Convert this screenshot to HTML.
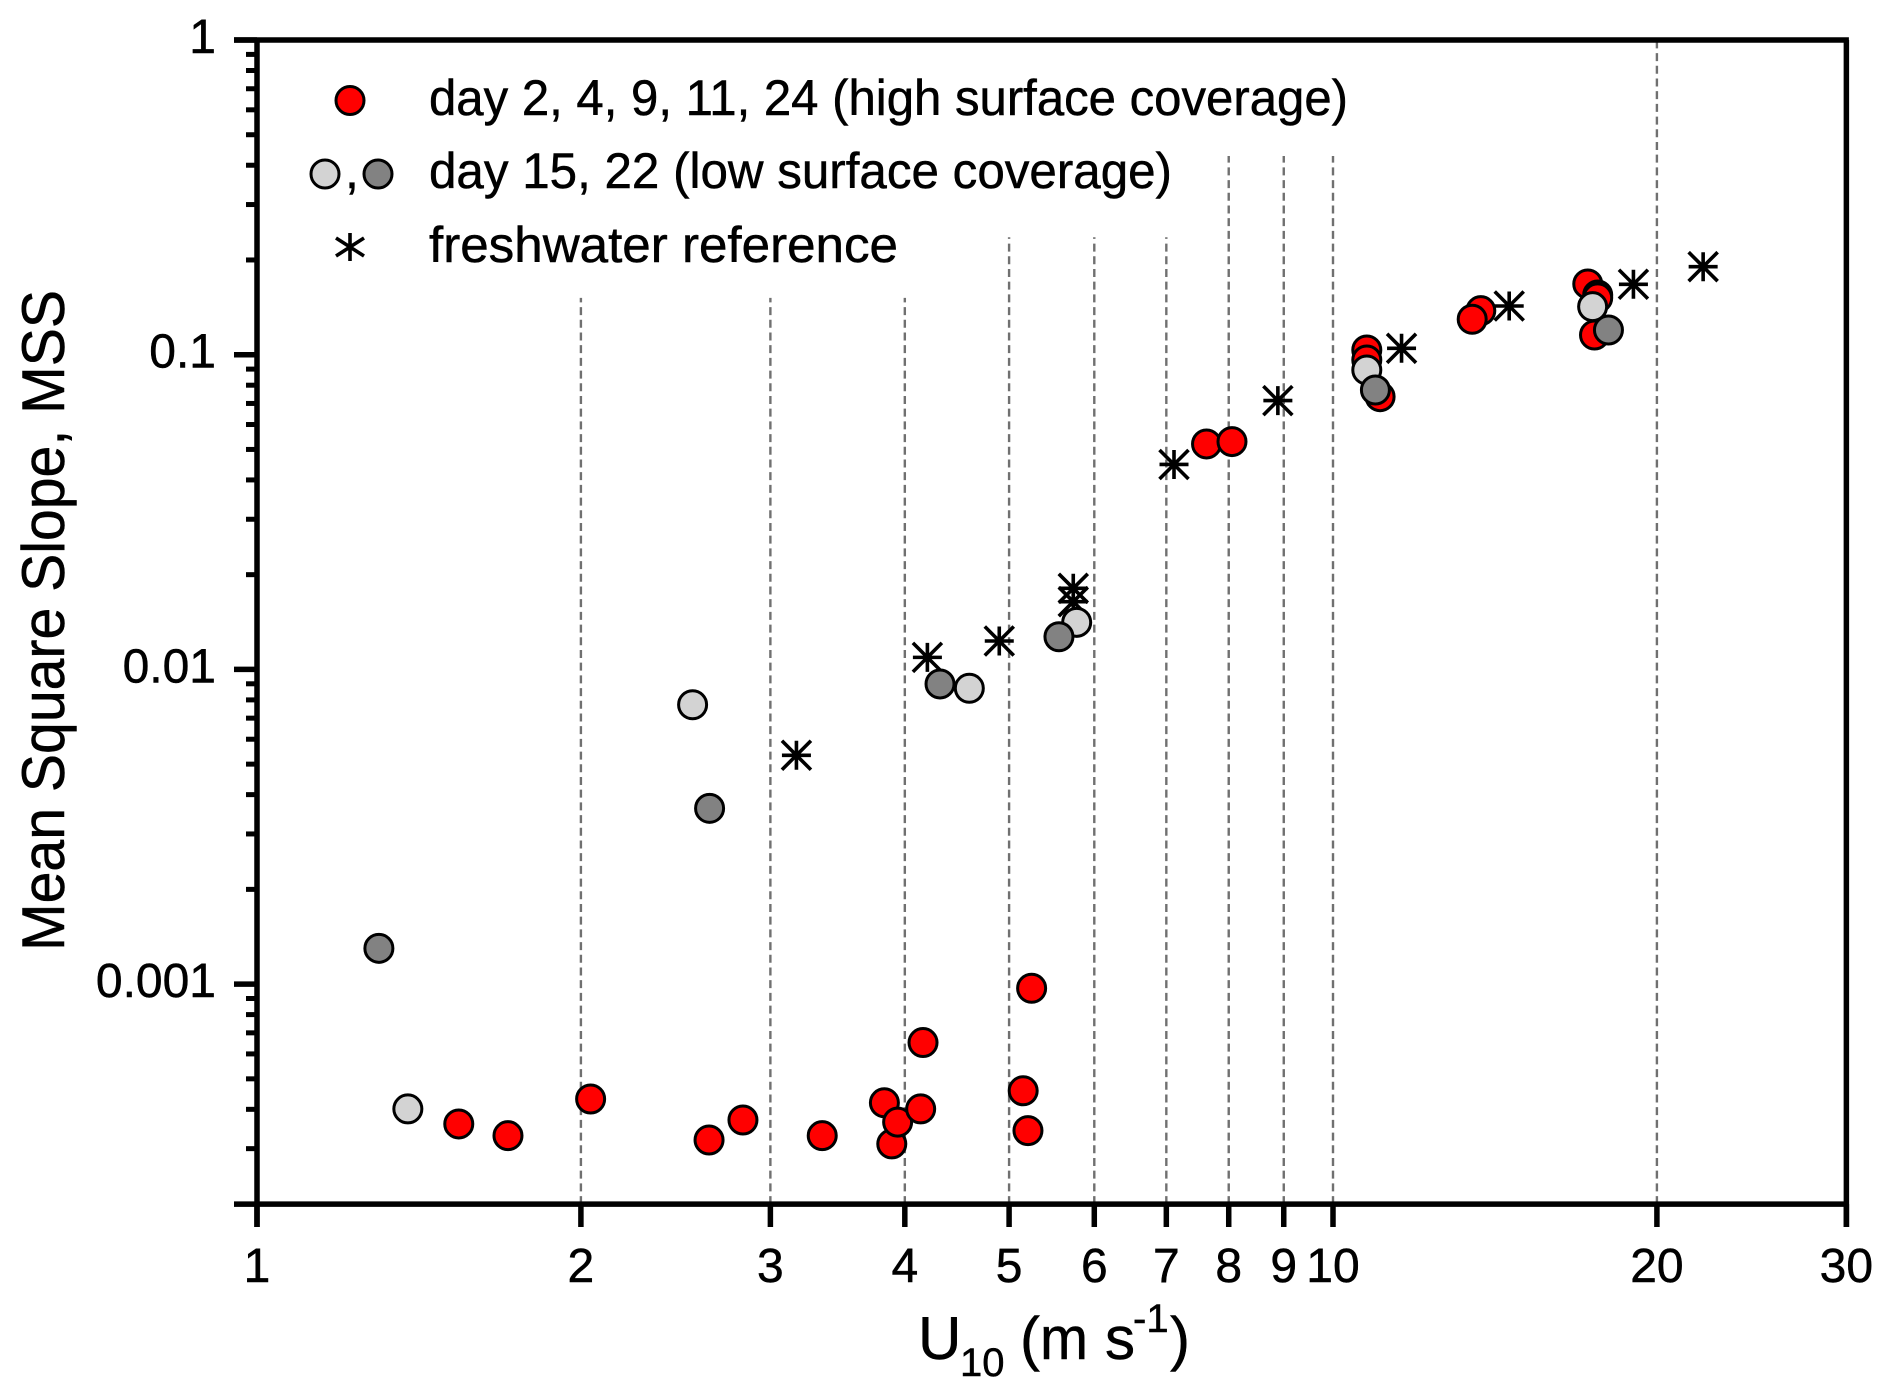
<!DOCTYPE html>
<html lang="en">
<head>
<meta charset="utf-8">
<title>Mean Square Slope vs U10</title>
<style>
html,body{margin:0;padding:0;background:#fff;}
svg{display:block;}
text{font-family:"Liberation Sans",sans-serif;fill:#000;stroke:#000;stroke-width:0.5px;}
</style>
</head>
<body>
<svg id="chart" xmlns="http://www.w3.org/2000/svg" width="1892" height="1396" viewBox="0 0 1892 1396">
  <rect x="0" y="0" width="1892" height="1396" fill="#fff"/>
  <g id="grid"></g>
  <g id="axes"></g>
  <g id="marks"></g>

  <text transform="translate(64,951) rotate(-90)" font-size="60" textLength="661" lengthAdjust="spacingAndGlyphs">Mean Square Slope, MSS</text>
  <text font-size="60" y="1359"><tspan x="918">U</tspan><tspan x="960" y="1376" font-size="40">10</tspan><tspan x="1020" y="1359">(</tspan><tspan x="1040" textLength="48" lengthAdjust="spacingAndGlyphs">m</tspan><tspan x="1105">s</tspan><tspan x="1133" y="1332" font-size="40">-1</tspan><tspan x="1170" y="1359">)</tspan></text>

  <g>
    <circle cx="350" cy="100.5" r="14" fill="#ff0000" stroke="#000" stroke-width="3"/>
    <text x="429" y="115" font-size="50" textLength="919" lengthAdjust="spacingAndGlyphs">day 2, 4, 9, 11, 24 (high surface coverage)</text>
    <circle cx="325" cy="174" r="14" fill="#d3d3d3" stroke="#000" stroke-width="3"/>
    <text x="345" y="188" font-size="50">,</text>
    <circle cx="378" cy="174" r="14" fill="#828282" stroke="#000" stroke-width="3"/>
    <text x="429" y="188" font-size="50" textLength="743" lengthAdjust="spacingAndGlyphs">day 15, 22 (low surface coverage)</text>
    <g stroke="#000" stroke-width="3.6" fill="none">
      <path d="M350 233V261M336 238L364 256M364 238L336 256"/>
    </g>
    <text x="429" y="262" font-size="50" textLength="469" lengthAdjust="spacingAndGlyphs">freshwater reference</text>
  </g>
</svg>
<script>
// Axis tick values
const xTickValues = [1, 2, 3, 4, 5, 6, 7, 8, 9, 10, 20, 30];
const xTickLabels = ["1", "2", "3", "4", "5", "6", "7", "8", "9", "10", "20", "30"];
const yMajorValues = [1, 0.1, 0.01, 0.001];
const yMajorLabels = ["1", "0.1", "0.01", "0.001"];
const yMinorValues = [0.9, 0.8, 0.7, 0.6, 0.5, 0.4, 0.3, 0.2, 0.09, 0.08, 0.07, 0.06, 0.05, 0.04, 0.03, 0.02, 0.009, 0.008, 0.007, 0.006, 0.005, 0.004, 0.003, 0.002, 0.0009, 0.0008, 0.0007, 0.0006, 0.0005, 0.0004, 0.0003, 0.0002];

// Dashed reference lines: wind speed and the MSS value where each line stops
const gridX = [2, 3, 4, 5, 6, 7, 8, 9, 10, 20];
const gridTop = [0.1515, 0.1515, 0.1515, 0.2362, 0.2362, 0.2362, 0.428, 0.428, 0.428, 1];

// High surface coverage
const highU = [1.540, 1.711, 2.042, 2.631, 2.829, 3.352, 3.829, 3.890, 3.939, 4.138, 4.159, 5.153, 5.206, 5.247, 7.629, 8.056, 10.75, 10.75, 11.06, 13.72, 13.47, 17.25, 17.62, 17.62, 17.50];
const highMSS = [3.594e-4, 3.299e-4, 4.314e-4, 3.196e-4, 3.70e-4, 3.299e-4, 4.196e-4, 3.106e-4, 3.642e-4, 4.012e-4, 6.52e-4, 4.581e-4, 3.423e-4, 9.70e-4, 0.05204, 0.05296, 0.1035, 0.0962, 0.07354, 0.1380, 0.1296, 0.1678, 0.1548, 0.1515, 0.1155];

// Day 15 (low coverage, light grey)
const day15U = [1.381, 2.540, 4.592, 5.778, 10.75, 17.43];
const day15MSS = [4.012e-4, 0.00772, 0.00871, 0.01411, 0.0894, 0.1421];

// Day 22 (low coverage, dark grey)
const day22U = [1.298, 2.634, 4.313, 5.563, 10.95, 18.03];
const day22MSS = [0.001299, 0.003618, 0.00899, 0.01270, 0.07724, 0.1198];

// Freshwater reference
const freshU = [3.172, 4.198, 4.896, 5.736, 5.736, 7.116, 8.887, 11.58, 14.58, 19.02, 22.08];
const freshMSS = [0.005335, 0.01092, 0.01231, 0.01810, 0.01641, 0.04479, 0.07147, 0.1048, 0.1428, 0.1674, 0.1904];

const NS = "http://www.w3.org/2000/svg";
const xScale = v => 257 + 1076 * Math.log10(v);
const yScale = v => 40 - 314.7 * Math.log10(v);
const yBottom = yScale(0.0002);
const xRight = xScale(30);

function make(tag, attrs, parent) {
  const el = document.createElementNS(NS, tag);
  for (const k in attrs) el.setAttribute(k, attrs[k]);
  parent.appendChild(el);
  return el;
}

const gridG = document.getElementById("grid");
const axesG = document.getElementById("axes");
const marksG = document.getElementById("marks");

gridX.forEach((v, i) => {
  const line = make("line", {x1: xScale(v), x2: xScale(v), y1: yBottom, y2: yScale(gridTop[i]), stroke: "#707070", "stroke-width": 2.4, "stroke-dasharray": "8 4.7"}, gridG);
  
  
});

const frame = make("path", {d: `M234 ${yScale(1)}H${xRight + 2.5}M${xScale(1)} ${yScale(1)}V1227M${xRight} ${yScale(1)}V1227M234 ${yBottom}H${xRight}`, stroke: "#000", "stroke-width": 5.5, fill: "none"}, axesG);



xTickValues.forEach((v, i) => {
  const tick = make("line", {x1: xScale(v), x2: xScale(v), y1: yBottom, y2: 1227, stroke: "#000", "stroke-width": 5.5}, axesG);
  
  
  const label = make("text", {x: xScale(v), y: 1282, "font-size": 48, "text-anchor": "middle"}, axesG);
  label.textContent = xTickLabels[i];
  
  
});

yMajorValues.forEach((v, i) => {
  const tick = make("line", {x1: 234, x2: 257, y1: yScale(v), y2: yScale(v), stroke: "#000", "stroke-width": 5.5}, axesG);
  
  
  const label = make("text", {x: 216, y: yScale(v) + 13, "font-size": 48, "text-anchor": "end"}, axesG);
  label.textContent = yMajorLabels[i];
  
  
});

yMinorValues.forEach(v => {
  const tick = make("line", {x1: v === 0.0002 ? 234 : 246, x2: 257, y1: yScale(v), y2: yScale(v), stroke: "#000", "stroke-width": 5}, axesG);
  
  
});

freshU.forEach((u, i) => {
  const cx = xScale(u), cy = yScale(freshMSS[i]), a = 14.5;
  const star = make("path", {d: `M${cx - a} ${cy}H${cx + a}M${cx} ${cy - a}V${cy + a}M${cx - a} ${cy - a}L${cx + a} ${cy + a}M${cx + a} ${cy - a}L${cx - a} ${cy + a}`, stroke: "#000", "stroke-width": 3.6, fill: "none"}, marksG);
  
  
});

highU.forEach((u, i) => {
  const dot = make("circle", {cx: xScale(u), cy: yScale(highMSS[i]), r: 14, fill: "#ff0000", stroke: "#000", "stroke-width": 3}, marksG);
  
  
});

day15U.forEach((u, i) => {
  const dot = make("circle", {cx: xScale(u), cy: yScale(day15MSS[i]), r: 14, fill: "#d3d3d3", stroke: "#000", "stroke-width": 3}, marksG);
  
  
});

day22U.forEach((u, i) => {
  const dot = make("circle", {cx: xScale(u), cy: yScale(day22MSS[i]), r: 14, fill: "#828282", stroke: "#000", "stroke-width": 3}, marksG);
  
  
});
</script>
</body>
</html>
